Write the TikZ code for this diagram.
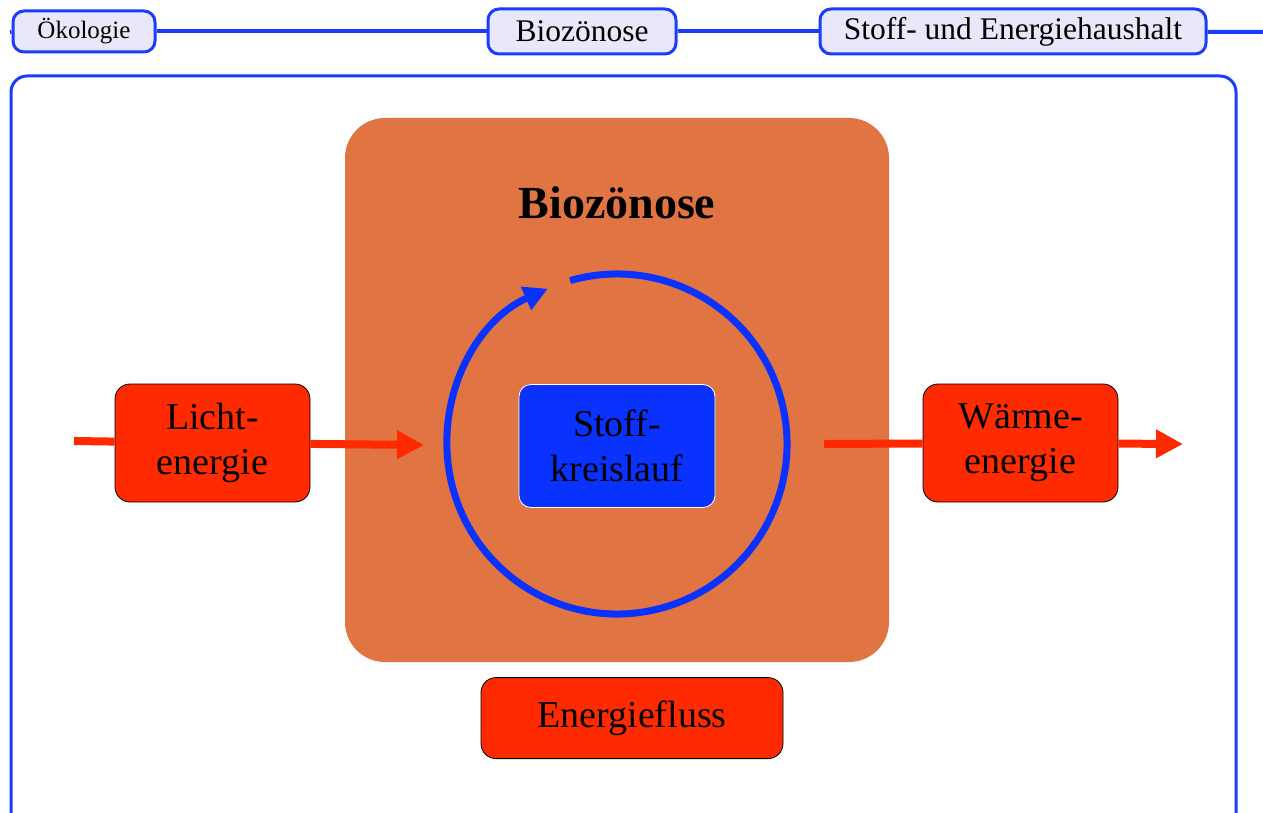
\documentclass[tikz,border=0pt]{standalone}
\usepackage{fontspec}
\setmainfont{Liberation Serif}
\usetikzlibrary{
  arrows.meta,  % Tips "Triangle"
  positioning,  % Function "of" (e.g. [below=of x])
}
\definecolor{tabblau}{HTML}{1A3CFF}
\definecolor{tabfill}{HTML}{E8E8FA}
\definecolor{biofarbe}{HTML}{E07442}
\definecolor{energierot}{HTML}{FF2A00}
\definecolor{stoffblau}{HTML}{0A32FF}
\def\mygross{\fontsize{38}{45}\selectfont}
\def\mytab{\fontsize{31.5}{36}\selectfont}
\def\mytabklein{\fontsize{25}{30}\selectfont}
\tikzset{
  x=1pt,
  y=-1pt,
  reiter/.style={
    draw=tabblau,
    line width=3pt,
    fill=tabfill,
    rounded corners=11pt,
    inner sep=0pt,
    minimum height=45pt,
    font=\mytab
  },
  leiste/.style={
    draw=tabblau,
    line width=4pt
  },
  rahmen/.style={
    draw=tabblau,
    line width=3pt,
    rounded corners=16pt
  },
  bio box/.style={
    fill=biofarbe,
    rounded corners=40pt,
    minimum width=544pt,
    minimum height=544pt
  },
  energie box/.style={
    draw=black,
    line width=0.8pt,
    fill=energierot,
    rounded corners=15pt,
    inner sep=0pt,
    minimum width=195pt,
    minimum height=118pt,
    align=center,
    font=\mygross
  },
  stoff box/.style={
    draw=white,
    line width=0.8pt,
    fill=stoffblau,
    rounded corners=12pt,
    inner sep=0pt,
    minimum width=196pt,
    minimum height=123pt,
    align=center,
    font=\mygross
  },
  energie pfeil/.style={
    draw=energierot,
    line width=8pt
  },
  pfeilspitze/.style={
    -{Triangle[length=27pt,width=27pt,fill=energierot]}
  },
  kreislauf/.style={
    draw=stoffblau,
    line width=7pt,
    -{Triangle[length=24pt,width=24pt]}
  }
}

\begin{document}
\begin{tikzpicture}
\useasboundingbox (0,0) rectangle (1263,813);
% Kopfleiste
\coordinate (links)  at (10,32);
\coordinate (rechts) at (1263,32);
\node[reiter,minimum width=142pt,minimum height=41pt,font=\mytabklein] (oeko) at (84,31.5)   {Ökologie};
\node[reiter,minimum width=188pt] (bio)  at (582,31.5)  {Biozönose};
\node[reiter,minimum width=386pt] (haus) at (1013,31.5) {Stoff- und Energiehaushalt};
\path[leiste] (links) edge (oeko)
              (oeko)  edge (bio)
              (bio)   edge (haus)
              (haus)  edge (rechts);
\draw[rahmen] (11,76) rectangle (1236,840);
% Biozoenose
\node[bio box] (bioz) at (617,390) {};
\node[font=\fontsize{46}{50}\selectfont\bfseries] (titel) at (617,203) {Biozönose};
\coordinate (mitte) at (617,444);
\draw[kreislauf] (mitte) ++(254:170) arc[start angle=254,end angle=606,radius=170];
\node[stoff box] (stoff) at (617,446) {Stoff-\\kreislauf};
% Energiefluss
\coordinate (lichtrein)  at (74,441);
\coordinate (lichtraus)  at (424,445);
\coordinate (waermerein) at (824,444);
\coordinate (waermeraus) at (1183,444);
\node[energie box] (licht)  at (212.5,443)  {Licht-\\energie};
\node[energie box] (waerme) at (1020.5,443) {Wärme-\\energie};
\draw[energie pfeil]             (lichtrein)  -- (licht);
\draw[energie pfeil,pfeilspitze] (licht)      -- (lichtraus);
\draw[energie pfeil]             (waermerein) -- (waerme);
\draw[energie pfeil,pfeilspitze] (waerme)     -- (waermeraus);
\node[energie box,minimum width=302pt,minimum height=81pt,below=15pt of bioz,xshift=15pt] (fluss) {Energiefluss};
\end{tikzpicture}
\end{document}
